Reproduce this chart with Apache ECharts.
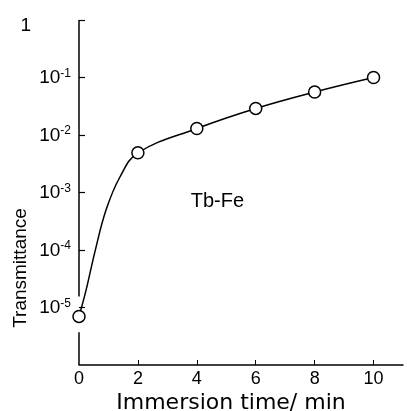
<!DOCTYPE html>
<html>
<head>
<meta charset="utf-8">
<script src="https://cdn.jsdelivr.net/npm/echarts@6/dist/echarts.min.js"></script>
<style>html,body{margin:0;padding:0;background:#fff}#c{width:407px;height:411px}</style>
</head>
<body>
<div id="c"></div>
<script>
// Measured markers
const markerTimes = [0, 2, 4, 6, 8, 10];
const markerTrans = [7.0e-6, 4.9e-3, 1.3e-2, 2.9e-2, 5.6e-2, 1.0e-1];
// Drawn curve
const curveTimes = [0, 0.24, 0.54, 0.92, 1.39, 2, 4, 6, 8, 10];
const curveTrans = [7.0e-6, 2.0e-5, 9.3e-5, 5.0e-4, 1.86e-3, 4.9e-3, 1.3e-2, 2.9e-2, 5.6e-2, 1.0e-1];
const xTicks = [0, 2, 4, 6, 8, 10];
const yTicks = [1e-6, 1e-5, 1e-4, 1e-3, 1e-2, 1e-1, 1];
const yAxisTitle = 'Transmittance';
const xAxisTitle = 'Immersion time\u2215 min';
const sampleLabel = 'Tb-Fe';

const FONT = 'Liberation Sans';
const chart = echarts.init(document.getElementById('c'), null, {renderer: 'canvas'});

const option = {
  animation: false,
  backgroundColor: '#fff',
  grid: {left: 79, right: 4, top: 20, bottom: 46, containLabel: false},
  xAxis: {
    type: 'value', min: 0, max: 11, interval: 2,
    axisLine: {show: true, lineStyle: {color: '#000', width: 1.5}},
    axisTick: {show: true, inside: true, length: 5, lineStyle: {color: '#000', width: 1}, customValues: xTicks.slice(1)},
    axisLabel: {color: '#000', fontSize: 18, fontFamily: FONT, margin: 5, customValues: xTicks},
    splitLine: {show: false}
  },
  yAxis: {
    type: 'log', logBase: 10, min: 1e-6, max: 1,
    axisLine: {show: false},
    axisTick: {show: true, inside: true, length: 6, lineStyle: {color: '#000', width: 1.2}, customValues: yTicks.slice(1)},
    axisLabel: {
      customValues: yTicks.slice(1),
      color: '#000', fontSize: 19, fontFamily: FONT, margin: 8,
      formatter: function (v) {
        const e = Math.round(Math.log10(v));
        if (e === 0) return '{one|1}';
        return '{b|10}{s|' + e + '}';
      },
      rich: {
        one: {fontSize: 19, fontFamily: FONT, color: '#000', padding: [12, 40, 0, 0]},
        b: {fontSize: 19, fontFamily: FONT, color: '#000', lineHeight: 20, verticalAlign: 'bottom'},
        s: {fontSize: 12, fontFamily: FONT, color: '#000', verticalAlign: 'top', lineHeight: 20, padding: [0, 0, 0, 0]}
      }
    },
    splitLine: {show: false}
  },
  series: [
    {
      type: 'line', smooth: 0.4, showSymbol: false, symbol: 'none',
      data: curveTimes.map((t, i) => [t, curveTrans[i]]),
      lineStyle: {color: '#000', width: 1.5}, z: 2
    },
    {
      type: 'scatter', symbol: 'circle', symbolSize: 12,
      data: markerTimes.map((t, i) => [t, markerTrans[i]]),
      itemStyle: {color: '#fff', borderColor: '#000', borderWidth: 1.5, opacity: 1}, z: 3
    }
  ]
};
chart.setOption(option);

// y-axis line with a break near the bottom
const pTop = chart.convertToPixel({gridIndex: 0}, [0, 1]);
const pBrk1 = chart.convertToPixel({gridIndex: 0}, [0, 1.55e-5]);
const pBrk2 = chart.convertToPixel({gridIndex: 0}, [0, 3.7e-6]);
const pBot = chart.convertToPixel({gridIndex: 0}, [0, 1e-6]);
const pLab = chart.convertToPixel({gridIndex: 0}, [4.7, 7e-4]);
chart.setOption({
  graphic: [
    {type: 'line', shape: {x1: pTop[0], y1: pTop[1], x2: pBrk1[0], y2: pBrk1[1]}, style: {stroke: '#000', lineWidth: 1.5}},
    {type: 'line', shape: {x1: pBrk2[0], y1: pBrk2[1], x2: pBot[0], y2: pBot[1]}, style: {stroke: '#000', lineWidth: 1.5}},
    {type: 'text', x: pLab[0], y: pLab[1], style: {text: sampleLabel, fill: '#000', font: '20px ' + FONT, textAlign: 'center', textVerticalAlign: 'middle'}},
    {type: 'text', x: 231, y: 403, style: {text: xAxisTitle, fill: '#000', font: '22px "DejaVu Sans"', textAlign: 'center', textVerticalAlign: 'middle'}},
    {type: 'text', x: 21, y: 268, rotation: Math.PI / 2, style: {text: yAxisTitle, fill: '#000', font: '19px ' + FONT, textAlign: 'center', textVerticalAlign: 'middle'}}
  ]
});
</script>
</body>
</html>
